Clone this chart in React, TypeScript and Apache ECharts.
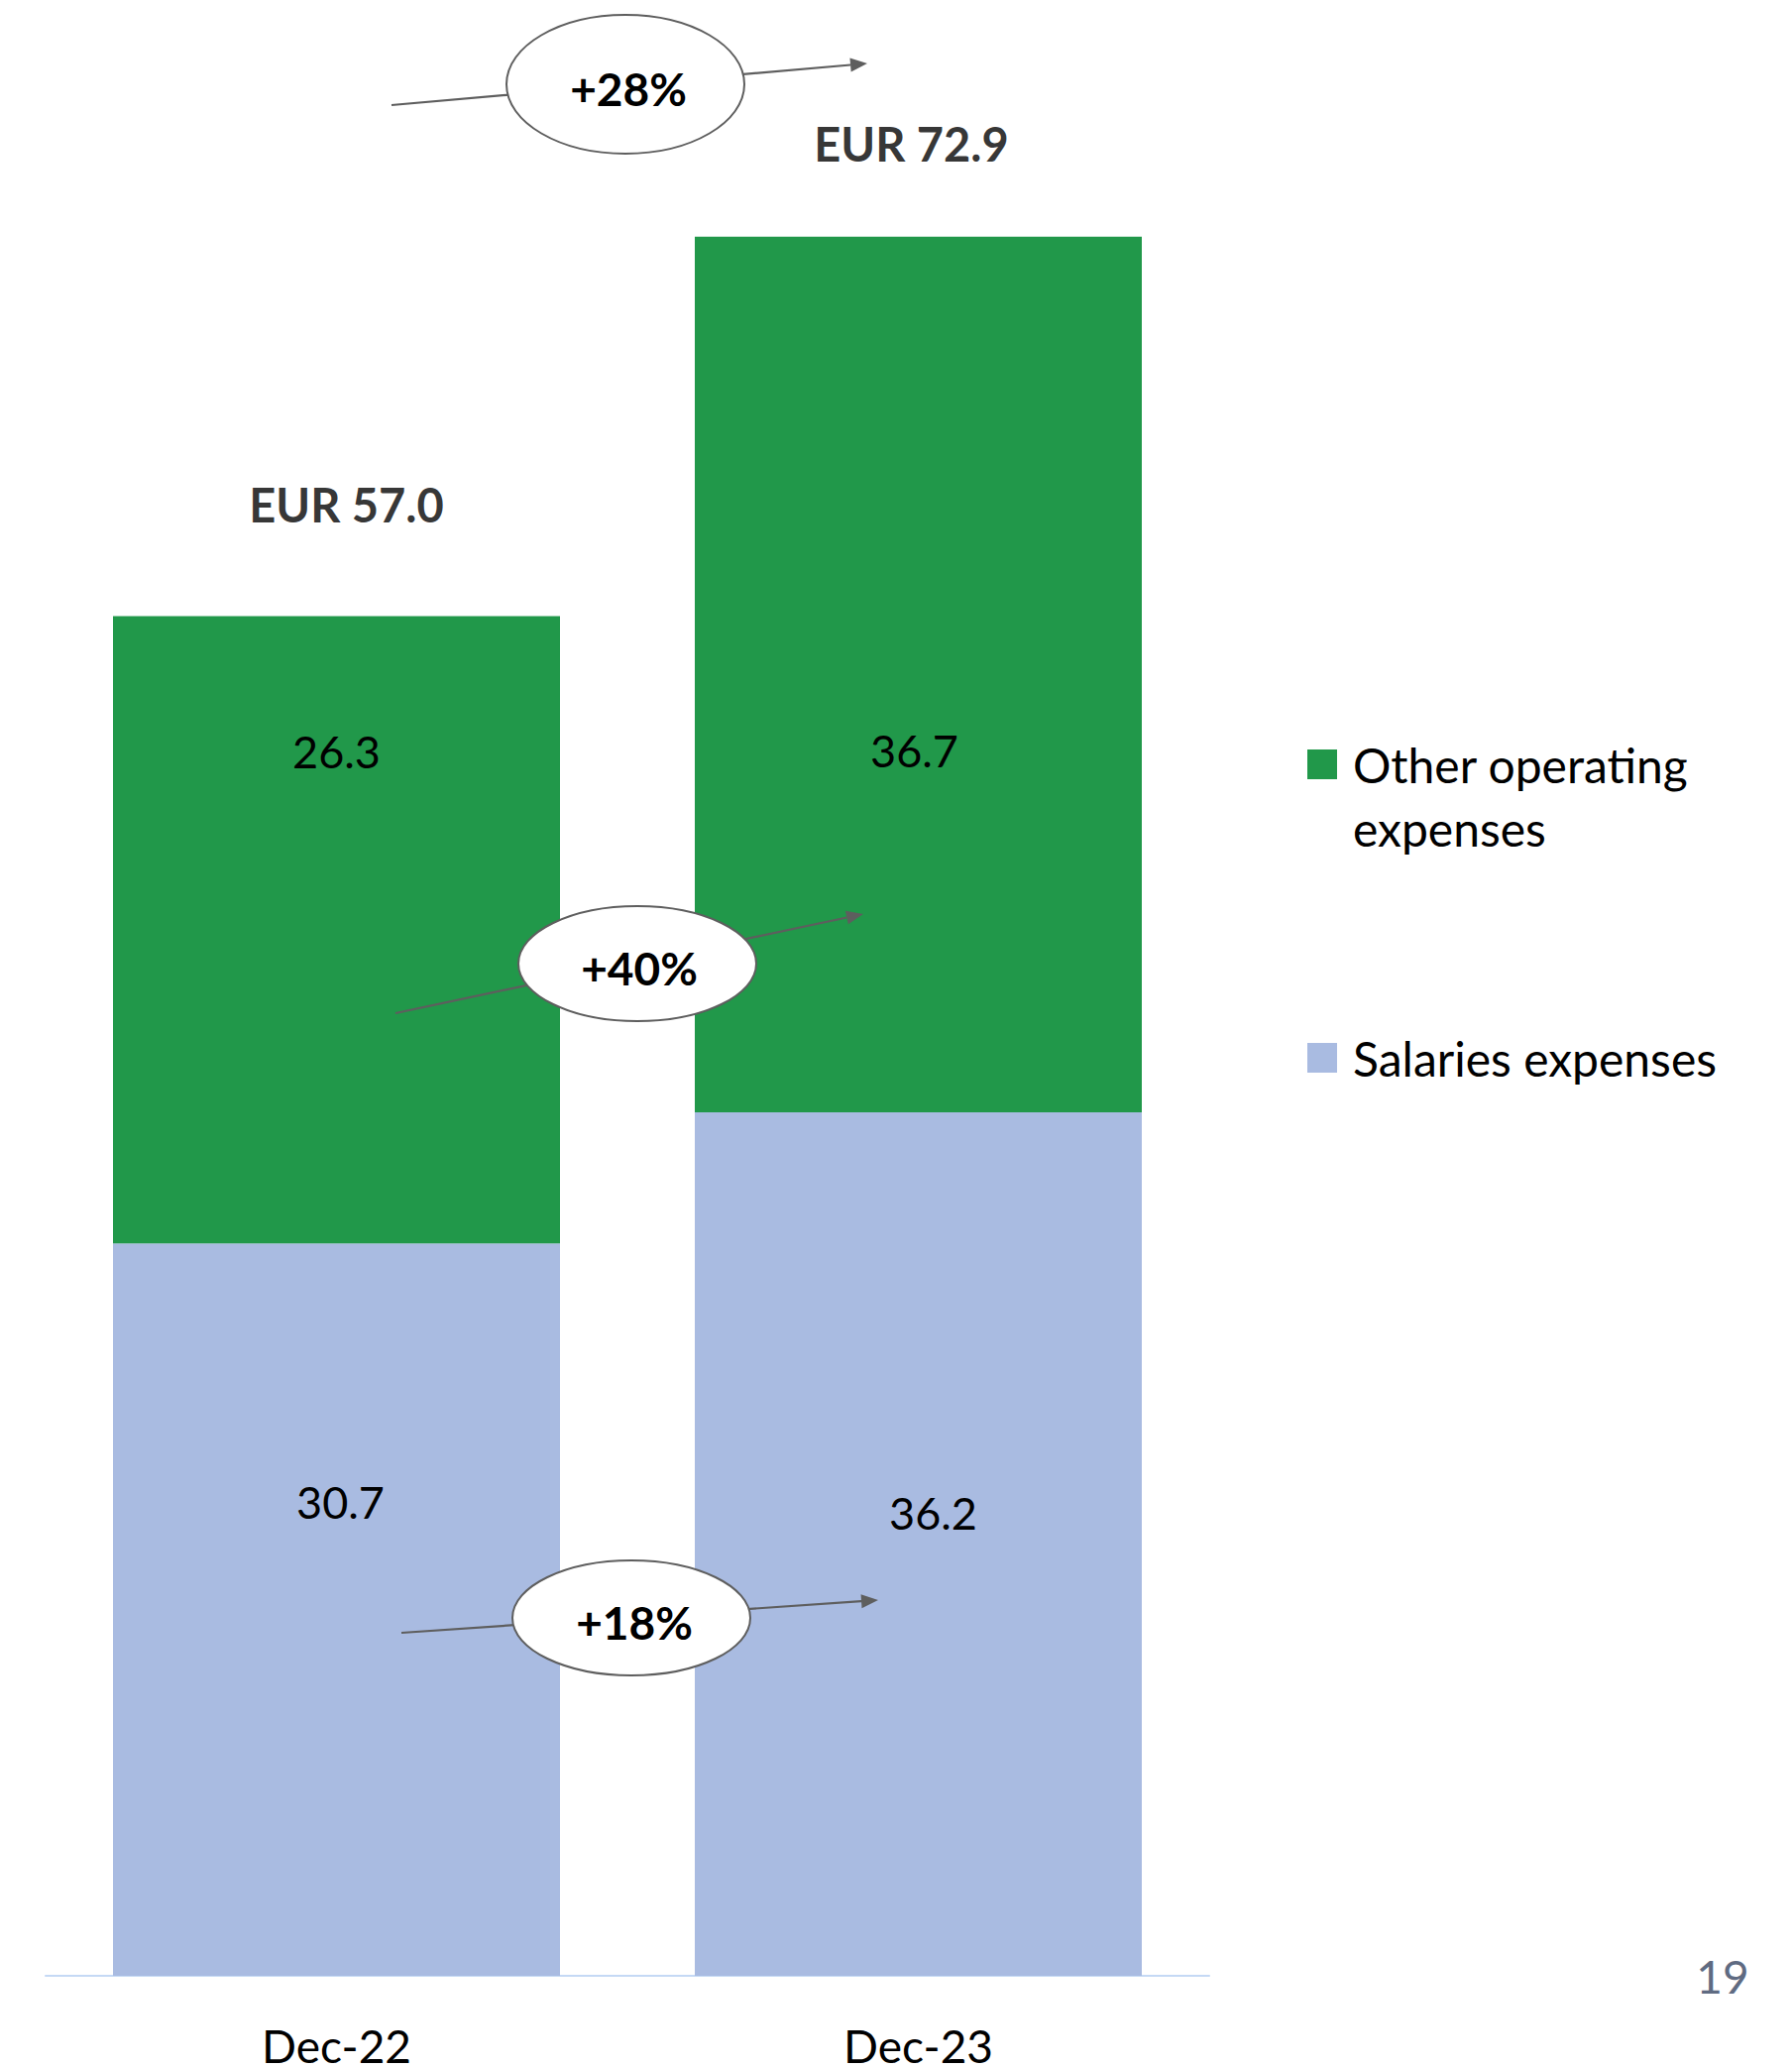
import React, { useEffect, useRef } from 'react';
import * as echarts from 'echarts';

// ---- data ----
const categories = ['Dec-22', 'Dec-23'];
const salariesExpenses = [30.7, 36.2];
const otherOperatingExpenses = [26.3, 36.7];
const totals = categories.map((_, i) => +(salariesExpenses[i] + otherOperatingExpenses[i]).toFixed(1));
const seriesNames = ['Other operating expenses', 'Salaries expenses'];
const growthLabels = ['+28%', '+40%', '+18%'];
const pageNumber = '19';

// ---- layout / style ----
const GREEN = '#21984A';
const BLUE = '#A9BBE1';
const GREY = '#5E5E5E';
const FONT = 'Lato';
const otherLabelOffsets = [[0, -180], [-4, 77]];
const salaryLabelOffsets = [[4, -109], [15, -31]];
const totalLabelOffsets = [[10, -112], [-7, -94]];
const annotations = [
  { from: [395, 106], to: [875, 64], ell: [631, 85, 120, 70], txt: [634, 89] },
  { from: [399, 1022], to: [871, 922], ell: [643, 972, 120, 58], txt: [645, 976] },
  { from: [405, 1647], to: [886, 1614], ell: [637, 1632, 120, 58], txt: [640, 1636] },
];

function buildGraphic() {
  const els: any[] = [];
  annotations.forEach((a, i) => {
    const [x1, y1] = a.from;
    const [x2, y2] = a.to;
    const dx = x2 - x1, dy = y2 - y1;
    const len = Math.sqrt(dx * dx + dy * dy);
    const ux = dx / len, uy = dy / len;
    const px = -uy, py = ux;
    const headL = 17, headW = 7;
    const bx = x2 - ux * headL, by = y2 - uy * headL;
    els.push({
      type: 'line', z: 100,
      shape: { x1, y1, x2: bx, y2: by },
      style: { stroke: GREY, lineWidth: 2.2 },
    });
    els.push({
      type: 'polygon', z: 100,
      shape: { points: [[x2, y2], [bx + px * headW, by + py * headW], [bx - px * headW, by - py * headW]] },
      style: { fill: GREY },
    });
    els.push({
      type: 'ellipse', z: 101,
      shape: { cx: a.ell[0], cy: a.ell[1], rx: a.ell[2], ry: a.ell[3] },
      style: { fill: '#FFFFFF', stroke: GREY, lineWidth: 2 },
    });
    els.push({
      type: 'text', z: 102, x: a.txt[0], y: a.txt[1],
      style: {
        text: growthLabels[i], fontFamily: FONT, fontSize: 46, fontWeight: 'bold',
        fill: '#000000', align: 'center', verticalAlign: 'middle',
      },
    });
  });
  els.push({
    type: 'text', z: 102, x: 1738, y: 1993,
    style: {
      text: pageNumber, fontFamily: FONT, fontSize: 46, fill: '#5F6B82',
      align: 'center', verticalAlign: 'middle',
    },
  });
  return els;
}

export default function App() {
  const ref = useRef<HTMLDivElement>(null);
  useEffect(() => {
    if (!ref.current) return;
    const chart = echarts.init(ref.current, undefined, { renderer: 'svg' });
    const labelBase = { show: true, position: 'inside', fontFamily: FONT, fontSize: 45, color: '#000000' };
    chart.setOption({
      animation: false,
      backgroundColor: '#FFFFFF',
      grid: { left: 46, right: 588, top: 68, bottom: 90 },
      xAxis: {
        type: 'category',
        data: categories,
        axisLine: { show: true, lineStyle: { color: '#C5D9F5', width: 2 } },
        axisTick: { show: false },
        axisLabel: { fontFamily: FONT, fontSize: 46, color: '#000000', margin: 47 },
      },
      yAxis: { type: 'value', min: 0, max: 80, show: false, splitLine: { show: false } },
      legend: [
        {
          data: [seriesNames[0]], left: 1319, top: 675, orient: 'vertical', padding: 0,
          itemWidth: 30, itemHeight: 30, icon: 'rect', selectedMode: false,
          formatter: (name: string) => '\u00a0\n' + name.replace('operating ', 'operating\n'),
          textStyle: { fontFamily: FONT, fontSize: 48, color: '#000000', lineHeight: 64, padding: [0, 0, 0, 11] },
        },
        {
          data: [seriesNames[1]], left: 1319, top: 1043, orient: 'vertical', padding: 0,
          itemWidth: 30, itemHeight: 30, icon: 'rect', selectedMode: false,
          textStyle: { fontFamily: FONT, fontSize: 48, color: '#000000', padding: [0, 0, 0, 11] },
        },
      ],
      series: [
        {
          name: seriesNames[1], type: 'bar', stack: 'total', barWidth: 451,
          itemStyle: { color: BLUE },
          data: salariesExpenses.map((v, i) => ({
            value: v, label: { ...labelBase, offset: salaryLabelOffsets[i] },
          })),
          label: { ...labelBase, formatter: (p: any) => p.value.toFixed(1) },
        },
        {
          name: seriesNames[0], type: 'bar', stack: 'total', barWidth: 451,
          itemStyle: { color: GREEN },
          data: otherOperatingExpenses.map((v, i) => ({
            value: v, label: { ...labelBase, offset: otherLabelOffsets[i] },
          })),
          label: { ...labelBase, formatter: (p: any) => p.value.toFixed(1) },
        },
        {
          name: 'Total', type: 'scatter', symbolSize: 1, silent: true,
          itemStyle: { color: 'rgba(0,0,0,0)' },
          data: totals.map((v, i) => ({
            value: v,
            label: {
              show: true, position: 'inside', offset: totalLabelOffsets[i],
              fontFamily: FONT, fontSize: 47, fontWeight: 'bold', color: '#000000',
              formatter: (p: any) => 'EUR ' + p.value.toFixed(1),
            },
          })),
        },
      ],
      graphic: buildGraphic(),
    });
    return () => chart.dispose();
  }, []);
  return (
    <div
      ref={ref}
      style={{ position: 'absolute', left: 0, top: 0, width: 1808, height: 2086 }}
    />
  );
}
